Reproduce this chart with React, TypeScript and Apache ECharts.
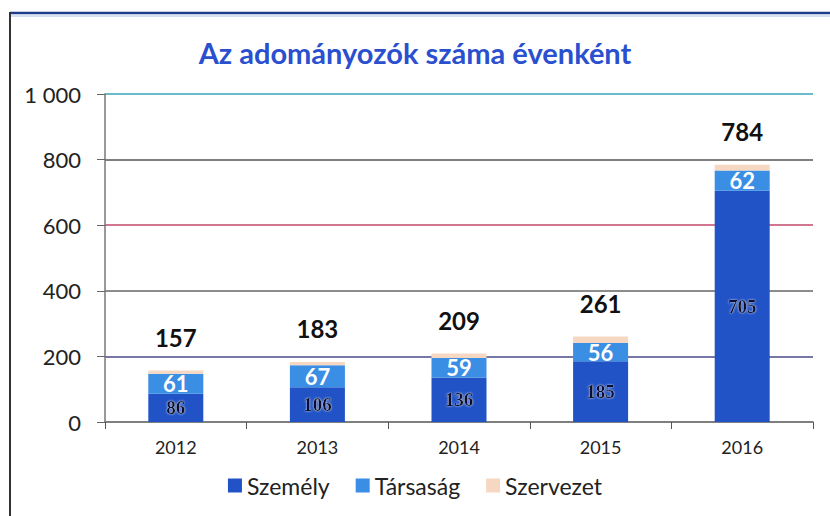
import React, { useEffect, useRef } from "react";
import * as echarts from "echarts";

const years = ["2012", "2013", "2014", "2015", "2016"];
const szemely = [86, 106, 136, 185, 705];
const tarsasag = [61, 67, 59, 56, 62];
const szervezet = [10, 10, 14, 20, 17];
const totals = [157, 183, 209, 261, 784];
const yTicks = [0, 200, 400, 600, 800, 1000];

const FONT = "Lato, 'Open Sans', sans-serif";

export default function App() {
  const ref = useRef<HTMLDivElement>(null);
  useEffect(() => {
    if (!ref.current) return;
    const chart = echarts.init(ref.current, null, { renderer: "svg" });
    chart.setOption({
      animation: false,
      backgroundColor: "#ffffff",
      title: {
        text: "Az adományozók száma évenként",
        left: "center",
        top: 33,
        textStyle: { fontFamily: FONT, fontSize: 29, fontWeight: "bold", color: "#2a4fcf" },
      },
      graphic: [
        { type: "line", shape: { x1: 10, y1: 13, x2: 830, y2: 13 }, style: { stroke: "#1c3c8c", lineWidth: 2.5 } },
        { type: "line", shape: { x1: 10, y1: 16, x2: 830, y2: 16 }, style: { stroke: "#a9c4e8", lineWidth: 1 } },
        { type: "line", shape: { x1: 10, y1: 12, x2: 10, y2: 516 }, style: { stroke: "#333333", lineWidth: 2 } },
      ],
      legend: {
        bottom: 14,
        left: "center",
        itemWidth: 14,
        itemHeight: 14,
        itemGap: 26,
        icon: "rect",
        textStyle: { fontFamily: FONT, fontSize: 23, color: "#222" },
        data: ["Személy", "Társaság", "Szervezet"],
      },
      grid: { left: 105, right: 17, top: 94, bottom: 94 },
      xAxis: {
        type: "category",
        data: years,
        axisLine: { lineStyle: { color: "#777", width: 1.5 } },
        axisTick: { show: true, length: 7, lineStyle: { color: "#555" } },
        axisLabel: { fontFamily: FONT, fontSize: 18, color: "#222", margin: 16 },
      },
      yAxis: {
        type: "value",
        min: 0,
        max: 1000,
        interval: 200,
        axisLine: { show: true, lineStyle: { color: "#777", width: 1.5 } },
        axisTick: { show: true, length: 8, lineStyle: { color: "#666" } },
        axisLabel: {
          fontFamily: FONT,
          fontSize: 22,
          color: "#222",
          margin: 24,
          formatter: (v: number) => (yTicks.includes(v) ? String(v).replace(/\B(?=(\d{3})+(?!\d))/g, " ") : ""),
        },
        splitLine: {
          show: true,
          lineStyle: { color: ["#777", "#4a4a8a", "#666", "#c04a6a", "#555", "#3aa6b9"], width: 1.5 },
        },
      },
      series: [
        {
          name: "Személy",
          type: "bar",
          stack: "t",
          barWidth: 55,
          data: szemely,
          itemStyle: { color: "#2153c6" },
          label: {
            show: true,
            position: "inside",
            fontFamily: "'Liberation Serif', 'DejaVu Serif', serif",
            fontSize: 19,
            fontWeight: "bold",
            color: "#0b0f30",
            textBorderWidth: 0,
            textShadowColor: "rgba(255,255,255,0.8)",
            textShadowBlur: 2,
          },
        },
        {
          name: "Társaság",
          type: "bar",
          stack: "t",
          data: tarsasag,
          itemStyle: { color: "#3a8ee4" },
          label: {
            show: true,
            position: "inside",
            fontFamily: FONT,
            fontSize: 22,
            fontWeight: "bold",
            color: "#ffffff",
            textBorderWidth: 0,
          },
        },
        {
          name: "Szervezet",
          type: "bar",
          stack: "t",
          data: szervezet,
          itemStyle: { color: "#f6d8c2" },
          label: {
            show: true,
            position: "top",
            distance: 21,
            fontFamily: FONT,
            fontSize: 24,
            fontWeight: "bold",
            color: "#111",
            formatter: (p: any) => String(totals[p.dataIndex]),
          },
        },
      ],
    });
    return () => chart.dispose();
  }, []);
  return <div ref={ref} style={{ width: 830, height: 516, position: "absolute", left: 0, top: 0 }} />;
}
